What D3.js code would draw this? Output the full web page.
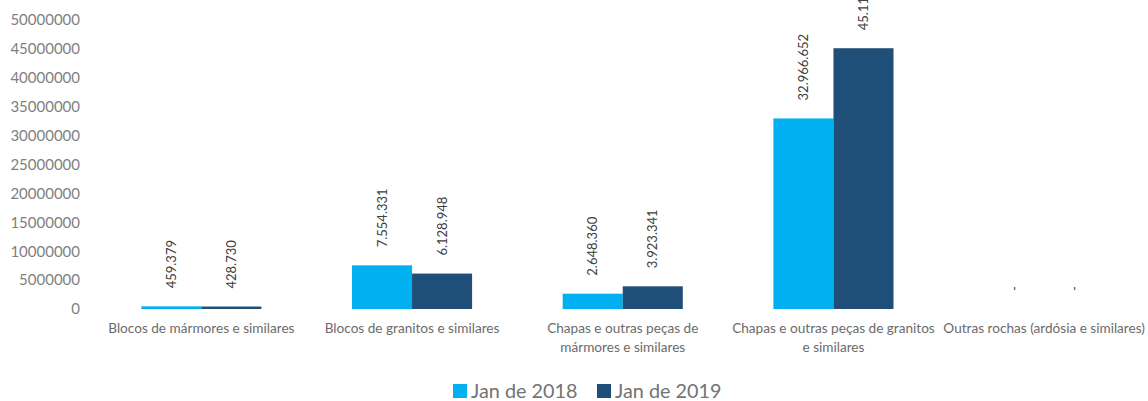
<!DOCTYPE html>
<html>
<head>
<meta charset="utf-8">
<script src="https://cdn.jsdelivr.net/npm/d3@7"></script>
<style>
  body { margin: 0; background: #fff; }
  svg { display: block; font-family: Lato, "Open Sans", sans-serif; }
</style>
</head>
<body>
<div id="chart"></div>
<script>
// Data
const categories = [
  "Blocos de mármores e similares",
  "Blocos de granitos e similares",
  "Chapas e outras peças de mármores e similares",
  "Chapas e outras peças de granitos e similares",
  "Outras rochas (ardósia e similares)"
];
// wrapped lines for axis labels
const categoryLines = [
  ["Blocos de mármores e similares"],
  ["Blocos de granitos e similares"],
  ["Chapas e outras peças de", "mármores e similares"],
  ["Chapas e outras peças de granitos", "e similares"],
  ["Outras rochas (ardósia e similares)"]
];
const seriesNames = ["Jan de 2018", "Jan de 2019"];
const values2018 = [459379, 7554331, 2648360, 32966652, 0];
const values2019 = [428730, 6128948, 3923341, 45116000, 0];
const labels2018 = ["459.379", "7.554.331", "2.648.360", "32.966.652", "-"];
const labels2019 = ["428.730", "6.128.948", "3.923.341", "45.116.000", "-"];
const yTicks = [0, 5000000, 10000000, 15000000, 20000000, 25000000, 30000000, 35000000, 40000000, 45000000, 50000000];
const colors = ["#00B0F0", "#1F4E79"];

const width = 1148, height = 401;
const margin = { top: 20, right: 0, bottom: 92, left: 96 };

const svg = d3.select("#chart")
  .append("svg")
  .attr("width", width)
  .attr("height", height);

const x = d3.scaleBand()
  .domain(categories)
  .range([margin.left, margin.left + 5 * 210.7])
  .paddingInner(0.43)
  .paddingOuter(0.215);

const xSub = d3.scaleBand()
  .domain(seriesNames)
  .range([0, x.bandwidth()]);

const y = d3.scaleLinear()
  .domain([0, 50000000])
  .range([height - margin.bottom, margin.top]);

// Y axis (labels only)
svg.append("g")
  .attr("transform", `translate(80,0)`)
  .call(d3.axisLeft(y).tickValues(yTicks).tickSize(0).tickPadding(0).tickFormat(d3.format("d")))
  .call(g => g.select(".domain").remove())
  .call(g => g.selectAll("text")
    .attr("fill", "#7f7f7f")
    .attr("font-size", 15)
    .attr("font-family", "Lato, sans-serif"));

const series = [values2018, values2019];
const labels = [labels2018, labels2019];

series.forEach((vals, s) => {
  const g = svg.append("g");
  g.selectAll("rect")
    .data(vals)
    .join("rect")
    .attr("x", (d, i) => x(categories[i]) + xSub(seriesNames[s]))
    .attr("y", d => y(d))
    .attr("width", xSub.bandwidth())
    .attr("height", d => y(0) - y(d))
    .attr("fill", colors[s]);

  g.selectAll("text")
    .data(vals)
    .join("text")
    .attr("transform", (d, i) => {
      const cx = x(categories[i]) + xSub(seriesNames[s]) + xSub.bandwidth() / 2;
      return `translate(${cx + 4.5},${y(d) - 18}) rotate(-90)`;
    })
    .attr("text-anchor", "start")
    .attr("fill", "#404040")
    .attr("font-size", 13)
    .text((d, i) => labels[s][i]);
});

// Category labels
const catG = svg.append("g");
categoryLines.forEach((lines, i) => {
  const t = catG.append("text")
    .attr("x", x(categories[i]) + x.bandwidth() / 2)
    .attr("y", 333)
    .attr("text-anchor", "middle")
    .attr("fill", "#6b6b6b")
    .attr("font-size", 13.6);
  lines.forEach((ln, j) => {
    t.append("tspan")
      .attr("x", x(categories[i]) + x.bandwidth() / 2)
      .attr("dy", j === 0 ? 0 : 19)
      .text(ln);
  });
});

// Legend
const legend = svg.append("g").attr("transform", "translate(453,384)");
const legendX = [0, 144];
seriesNames.forEach((name, s) => {
  legend.append("rect")
    .attr("x", legendX[s])
    .attr("y", 0)
    .attr("width", 14)
    .attr("height", 14)
    .attr("fill", colors[s]);
  legend.append("text")
    .attr("x", legendX[s] + 18)
    .attr("y", 14)
    .attr("fill", "#737373")
    .attr("font-size", 19.8)
    .text(name);
});
</script>
</body>
</html>
